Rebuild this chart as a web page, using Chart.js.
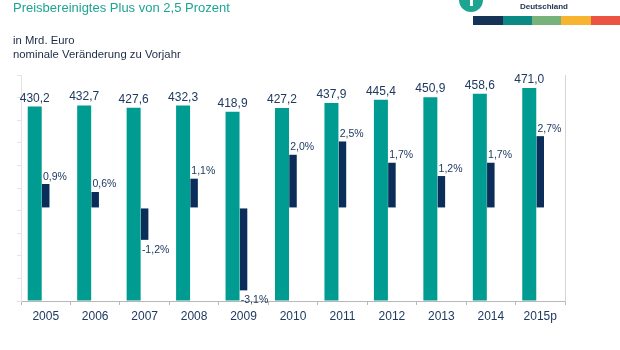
<!DOCTYPE html>
<html>
<head>
<meta charset="utf-8">
<script src="https://cdn.jsdelivr.net/npm/chart.js@4"></script>
<style>
  body { margin: 0; background: #fff; font-family: "Liberation Sans", Arial, sans-serif; }
  #wrap { position: relative; width: 620px; height: 350px; overflow: hidden; }
  #c { position: absolute; left: 0; top: 0; }
  .txt { position: absolute; white-space: nowrap; }
  #title { left: 13px; top: 0px; font-size: 13px; color: #1ea592; }
  #sub1 { left: 13px; top: 34px; font-size: 11.3px; color: #1b2c45; }
  #sub2 { left: 13px; top: 48px; font-size: 11.3px; color: #1b2c45; }
  #logo { position: absolute; left: 459px; top: -12px; width: 24px; height: 24px; border-radius: 50%; background: #1ea592; }
  #logo2 { position: absolute; left: 470px; top: -4px; width: 3px; height: 10px; background: #fff; }
  #brand1 { left: 520px; top: -7px; font-size: 8px; font-weight: bold; color: #1d2f4f; }
  #brand2 { left: 520px; top: 2px; font-size: 8px; font-weight: bold; color: #1d2f4f; }
  .stripe { position: absolute; top: 16px; height: 9px; }
</style>
</head>
<body>
<div id="wrap">
  <canvas id="c" width="620" height="350"></canvas>
  <div class="txt" id="title">Preisbereinigtes Plus von 2,5 Prozent</div>
  <div class="txt" id="sub1">in Mrd. Euro</div>
  <div class="txt" id="sub2">nominale Veränderung zu Vorjahr</div>
  <div id="logo"></div>
  <div id="logo2"></div>
  <div class="txt" id="brand1">Handelsverband</div>
  <div class="txt" id="brand2">Deutschland</div>
  <div class="stripe" style="left:473px;width:30px;background:#143357"></div>
  <div class="stripe" style="left:503px;width:29px;background:#0b8a85"></div>
  <div class="stripe" style="left:532px;width:29px;background:#77b27a"></div>
  <div class="stripe" style="left:561px;width:30px;background:#f6b431"></div>
  <div class="stripe" style="left:591px;width:29px;background:#ea5440"></div>
</div>
<script>
//data
var jahre = ['2005', '2006', '2007', '2008', '2009', '2010', '2011', '2012', '2013', '2014', '2015p'];
var umsatz = [430.2, 432.7, 427.6, 432.3, 418.9, 427.2, 437.9, 445.4, 450.9, 458.6, 471.0];
var veraenderung = [0.9, 0.6, -1.2, 1.1, -3.1, 2.0, 2.5, 1.7, 1.2, 1.7, 2.7];

var corTeal = '#009b91';
var corNavy = '#0b2d59';
var corTexto = '#1f3a60';

function fmt(v, casas){
    return v.toFixed(casas).replace('.', ',');
}

//rotulos das barras
var rotulos = {
    id: 'rotulos',
    afterDatasetsDraw: function(chart){
        var ctx = chart.ctx;
        ctx.save();
        ctx.fillStyle = corTexto;

        var meta0 = chart.getDatasetMeta(0);
        ctx.font = '12px "Liberation Sans", Arial, sans-serif';
        ctx.textAlign = 'center';
        ctx.textBaseline = 'alphabetic';
        meta0.data.forEach(function(bar, i){
            ctx.fillText(fmt(umsatz[i], 1), bar.x, bar.y - 5);
        });

        var meta1 = chart.getDatasetMeta(1);
        ctx.font = '10.5px "Liberation Sans", Arial, sans-serif';
        ctx.textAlign = 'left';
        meta1.data.forEach(function(bar, i){
            var left = bar.x - bar.width / 2;
            if (veraenderung[i] >= 0){
                ctx.fillText(fmt(veraenderung[i], 1) + '%', left + 1, bar.y - 4.5);
            }else{
                ctx.fillText(fmt(veraenderung[i], 1) + '%', left + 1, bar.y + 13);
            }
        });
        ctx.restore();
    }
};

var ctx = document.getElementById('c').getContext('2d');
var myChart = new Chart(ctx, {
    type: 'bar',
    data: {
        labels: jahre,
        datasets: [{
            label: 'Umsatz',
            data: umsatz,
            backgroundColor: corTeal,
            yAxisID: 'y',
            categoryPercentage: 0.89,
            barPercentage: 0.636
        }, {
            label: 'Veränderung',
            data: veraenderung,
            backgroundColor: corNavy,
            yAxisID: 'y2',
            grouped: false,
            barPercentage: 0.19
        }, {
            // espaco vazio para deslocar as barras verdes para a esquerda
            label: '',
            data: jahre.map(function(){ return null; }),
            backgroundColor: 'rgba(0,0,0,0)',
            yAxisID: 'y',
            categoryPercentage: 0.89,
            barPercentage: 0.636
        }]
    },
    plugins: [rotulos],
    options: {
        responsive: false,
        animation: false,
        layout: {
            padding: { left: 17, right: 55, top: 75, bottom: 22.6 }
        },
        plugins: {
            legend: { display: false },
            tooltip: { enabled: false }
        },
        scales: {
            x: {
                grid: { drawOnChartArea: false, tickLength: 4, color: '#b8b8b8' },
                border: { color: '#b8b8b8' },
                ticks: {
                    color: corTexto,
                    padding: 4,
                    font: { size: 12, family: '"Liberation Sans", Arial, sans-serif' }
                }
            },
            y: {
                min: 0,
                max: 500,
                ticks: { display: false, stepSize: 50 },
                grid: { drawOnChartArea: false, tickLength: 4, color: '#e4e4e4' },
                border: { color: '#e4e4e4' }
            },
            y2: {
                position: 'right',
                min: -3.5,
                max: 5,
                ticks: { display: false },
                grid: { drawOnChartArea: false, drawTicks: false },
                border: { color: '#d4d4d4' }
            }
        }
    }
});
</script>
</body>
</html>
